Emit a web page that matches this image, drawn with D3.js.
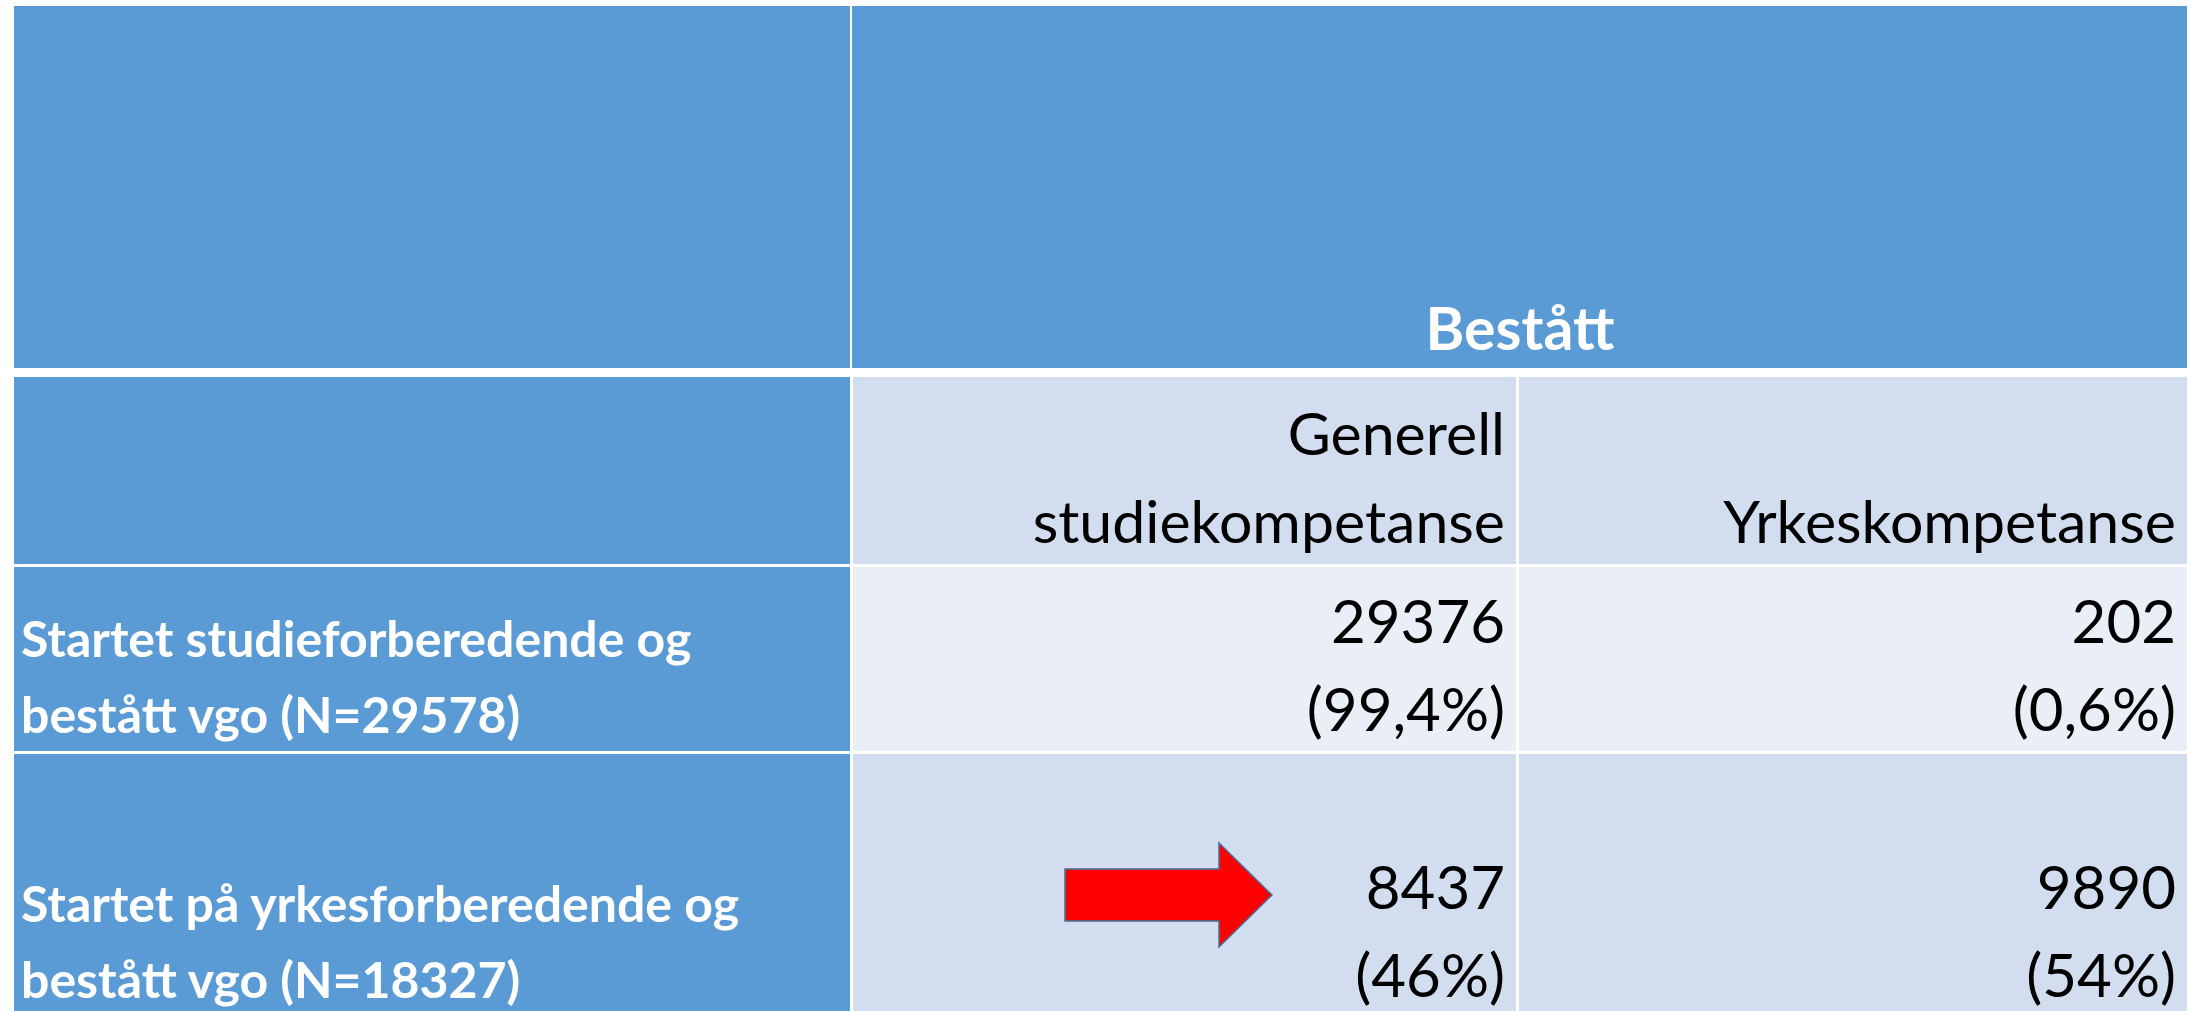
<!DOCTYPE html>
<html lang="nb">
<head>
<meta charset="UTF-8">
<title>Bestått</title>
<script src="https://cdn.jsdelivr.net/npm/d3@7"></script>
<style>
  html, body { margin: 0; padding: 0; background: #fff; }
  svg { display: block; }
</style>
</head>
<body>
<div id="chart"></div>
<script>
// table content
const headerTitle = "Bestått";
const colHeads = [["Generell", "studiekompetanse"], ["Yrkeskompetanse"]];
const rowLabels = [
  ["Startet studieforberedende og", "bestått vgo (N=29578)"],
  ["Startet på yrkesforberedende og", "bestått vgo (N=18327)"]
];
const counts = [[29376, 202], [8437, 9890]];
const shares = [["99,4%", "0,6%"], ["46%", "54%"]];

// layout
const W = 2200, H = 1011;
const colX = d3.scaleOrdinal().domain([0, 1, 2]).range([14, 853, 1519]);
const colW = d3.scaleOrdinal().domain([0, 1, 2]).range([836, 663, 668]);
const rowY = d3.scaleOrdinal().domain([0, 1, 2, 3]).range([6, 377, 567, 754]);
const rowH = d3.scaleOrdinal().domain([0, 1, 2, 3]).range([362, 187, 184, 270]);

const blue = "#5b9bd5", band1 = "#d2deef", band2 = "#e9eef7";
const font = "Lato, 'Open Sans', sans-serif";
const padR = 11;

const svg = d3.select("#chart")
  .append("svg")
    .attr("width", W)
    .attr("height", H);

// header row
svg.append("rect")
  .attr("x", colX(0)).attr("y", rowY(0))
  .attr("width", colW(0)).attr("height", rowH(0))
  .attr("fill", blue);
svg.append("rect")
  .attr("x", colX(1) - 1).attr("y", rowY(0))
  .attr("width", colX(2) + colW(2) - colX(1) + 1).attr("height", rowH(0))
  .attr("fill", blue);
svg.append("text")
  .attr("x", (colX(1) + colX(2) + colW(2)) / 2)
  .attr("y", rowY(0) + rowH(0) - 18)
  .attr("text-anchor", "middle")
  .attr("font-family", font)
  .attr("font-weight", "bold")
  .attr("font-size", "59px")
  .attr("fill", "#fff")
  .text(headerTitle);

// body cells
const cells = [];
[1, 2, 3].forEach(r => {
  [0, 1, 2].forEach(c => {
    let fill = blue;
    if (c > 0) fill = (r === 2) ? band2 : band1;
    cells.push({r, c, fill});
  });
});
svg.selectAll("rect.cell")
  .data(cells)
  .join("rect")
    .attr("class", "cell")
    .attr("x", d => colX(d.c))
    .attr("y", d => rowY(d.r))
    .attr("width", d => colW(d.c))
    .attr("height", d => rowH(d.r))
    .attr("fill", d => d.fill);

// column heads (bottom aligned, right aligned)
const lineGap = 88;
colHeads.forEach((lines, i) => {
  const c = i + 1;
  const base = rowY(1) + rowH(1) - 21;
  svg.append("g").selectAll("text")
    .data(lines)
    .join("text")
      .attr("x", colX(c) + colW(c) - padR)
      .attr("y", (d, k) => base - (lines.length - 1 - k) * lineGap)
      .attr("text-anchor", "end")
      .attr("font-family", font)
      .attr("font-size", "59px")
      .attr("fill", "#000")
      .text(d => d);
});

// row labels
const labelBase = [733, 998];
rowLabels.forEach((lines, i) => {
  svg.append("g").selectAll("text")
    .data(lines)
    .join("text")
      .attr("x", colX(0) + 7)
      .attr("y", (d, k) => labelBase[i] - (lines.length - 1 - k) * 76)
      .attr("text-anchor", "start")
      .attr("font-family", font)
      .attr("font-weight", "bold")
      .attr("font-size", "50px")
      .attr("fill", "#fff")
      .text(d => d);
});

// values
const valBase = [731, 997];
counts.forEach((row, i) => {
  const r = i + 2;
  row.forEach((v, j) => {
    const c = j + 1;
    svg.append("g").selectAll("text")
      .data([String(v), "(" + shares[i][j] + ")"])
      .join("text")
        .attr("x", colX(c) + colW(c) - padR)
        .attr("y", (d, k) => valBase[i] - (1 - k) * lineGap)
        .attr("text-anchor", "end")
        .attr("font-family", font)
        .attr("font-size", "60px")
        .attr("fill", "#000")
        .text(d => d);
  });
});

// red arrow pointing at the 8437 cell
const ax = colX(1), ay = rowY(3);
const arrow = [
  [212, 115], [366, 115], [366, 89], [419, 141],
  [366, 193], [366, 167], [212, 167]
].map(p => [ax + p[0], ay + p[1]]);
svg.append("path")
  .attr("d", d3.line()(arrow) + "Z")
  .attr("fill", "#ff0000")
  .attr("stroke", "#41719c")
  .attr("stroke-width", 1.5);
</script>
</body>
</html>
